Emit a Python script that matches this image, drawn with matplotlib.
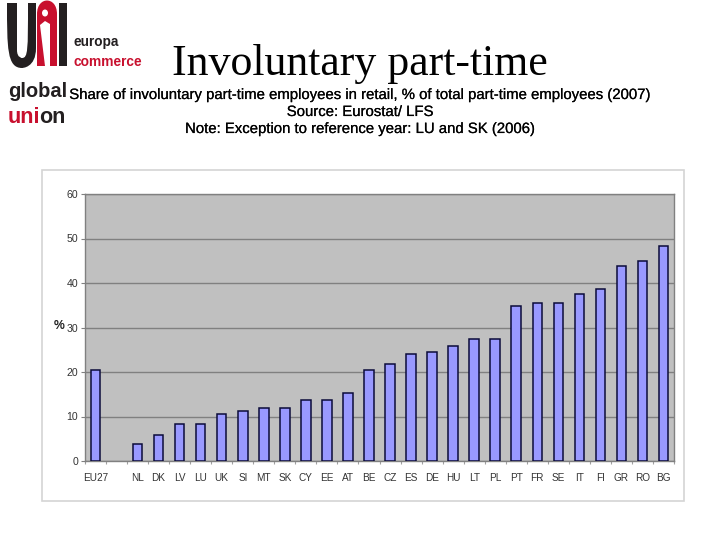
import matplotlib
matplotlib.use('Agg')
import matplotlib.pyplot as plt
import matplotlib.patheffects as pe
from matplotlib.patches import Rectangle, PathPatch, Ellipse, Polygon
from matplotlib.path import Path

categories = ['EU27', '', 'NL', 'DK', 'LV', 'LU', 'UK', 'SI', 'MT', 'SK', 'CY', 'EE', 'AT', 'BE',
              'CZ', 'ES', 'DE', 'HU', 'LT', 'PL', 'PT', 'FR', 'SE', 'IT', 'FI', 'GR', 'RO', 'BG']
values = [20.4, float('nan'), 3.9, 5.8, 8.4, 8.4, 10.6, 11.2, 11.8, 12.0, 13.6, 13.6, 15.3, 20.4,
          21.8, 24.0, 24.5, 25.9, 27.5, 27.5, 34.8, 35.4, 35.4, 37.6, 38.6, 43.9, 44.9, 48.4]
y_ticks = [0, 10, 20, 30, 40, 50, 60]
title = 'Involuntary part-time'
sub_lines = ['Share of involuntary part-time employees in retail, % of total part-time employees (2007)',
             'Source: Eurostat/ LFS',
             'Note: Exception to reference year: LU and SK (2006)']

W, H = 720, 540
fig = plt.figure(figsize=(W / 100, H / 100), dpi=100, facecolor='white')

# page overlay in pixel coordinates
page = fig.add_axes([0, 0, 1, 1], zorder=0)
page.set_xlim(0, W); page.set_ylim(H, 0); page.axis('off')

# chart frame
page.add_patch(Rectangle((42, 170), 642, 331, fc='white', ec='#d4d4d4', lw=1.2))

# logo
BLK = '#231f20'; RED = '#c8102e'
u = Path([(7, 3), (17, 3), (17, 50), (17, 58), (22, 58), (22, 58), (28, 58), (28, 50), (28, 3), (36, 3), (36, 48),
          (36, 68), (22, 68), (22, 68), (7, 68), (7, 48), (7, 3)],
         [1, 2, 2, 4, 4, 4, 4, 4, 2, 2, 2, 4, 4, 4, 4, 4, 79])
page.add_patch(PathPatch(u, fc=BLK, ec='none'))
arch = Path([(37, 66), (37, 14), (37, -4), (57, -4), (57, 14), (57, 66), (37, 66)],
            [1, 2, 4, 4, 4, 2, 79])
page.add_patch(PathPatch(arch, fc=RED, ec='none'))
page.add_patch(Rectangle((59, 3), 8, 63, fc=BLK, ec='none'))
page.add_patch(Polygon([(40, 25), (45, 21), (50, 24), (50, 66), (45, 66)], fc='white', ec='none'))
page.add_patch(Ellipse((45, 13), 6, 7, fc='white', ec='none'))
sans = 'Liberation Sans'
page.text(73, 46, 'europa', family=sans, fontsize=9.8, weight='bold', color=BLK, va='baseline')
page.text(73, 66, 'commerce', family=sans, fontsize=9.9, weight='bold', color=RED, va='baseline')
page.text(8, 97, 'global', family=sans, fontsize=14.5, weight='bold', color=BLK, va='baseline')
page.text(8, 123, 'uni', family=sans, fontsize=15.5, weight='bold', color=RED, va='baseline')
page.text(66, 123, 'on', family=sans, fontsize=15.5, weight='bold', color=BLK, va='baseline', ha='right')

# headings
page.text(359.5, 64.5, title, family='Liberation Serif', fontsize=31.6, color='black', ha='center', va='center')
for yy, line in zip([95, 112, 129], sub_lines):
    page.text(360, yy, line, family=sans, fontsize=10.74, color='black', ha='center', va='center',
              path_effects=[pe.withStroke(linewidth=0.12, foreground='black')])
page.text(59.5, 326, '%', family=sans, fontsize=8.8, weight='bold', color='#222222',
          ha='center', va='center')

# chart
L, R, T, B = 85, 674, 194, 461
ax = fig.add_axes([L / W, 1 - B / H, (R - L) / W, (B - T) / H], zorder=1)
ax.set_facecolor('#c0c0c0')
x = range(len(categories))
ax.bar(x, values, width=0.45, color='#9999ff', edgecolor='#0b0b3a', linewidth=1.1, zorder=3)
ax.set_xlim(-0.5, len(categories) - 0.5)
ax.set_ylim(0, 60)
ax.set_yticks(y_ticks)
ax.set_xticks([i - 0.5 for i in range(len(categories) + 1)], minor=False)
ax.set_xticklabels([])
ax.tick_params(axis='x', length=2.5, color='#a0a0a0', width=0.8)
ax.tick_params(axis='y', length=3, color='#808080', width=0.8, labelsize=7.6, labelcolor='#333333', pad=2)
for lab in ax.get_yticklabels():
    lab.set_family(sans)
ax.grid(axis='y', color='#808080', lw=1.0, zorder=1)
ax.set_axisbelow(True)
for s in ax.spines.values():
    s.set_color('#808080'); s.set_linewidth(1.0)
for i, c in enumerate(categories):
    ax.annotate(c, (i, 0), xytext=(0, -17), xycoords=('data', 'data'), textcoords='offset pixels',
                ha='center', va='center', family=sans, fontsize=7.2, color='#333333', annotation_clip=False)

fig.savefig('out.png', dpi=100)
